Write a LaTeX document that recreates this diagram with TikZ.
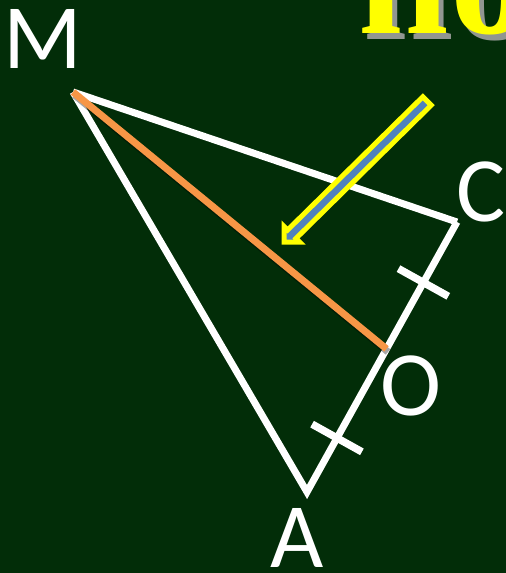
\documentclass[tikz,border=0pt]{standalone}
\usepackage{fontspec}
\setmainfont{Carlito}
\newfontfamily\titlefont{Liberation Serif}
\usetikzlibrary{calc}
\definecolor{bgreen}{RGB}{2,45,8}
\definecolor{orangeL}{RGB}{247,150,70}
\definecolor{arrowblue}{RGB}{79,129,189}
\definecolor{arrowyellow}{RGB}{255,255,0}
\definecolor{shadowgray}{RGB}{145,150,145}
\tikzset{
  side/.style={white,line width=7pt},
  tickmark/.style={white,line width=7.5pt},
  median/.style={orangeL,line width=7pt},
  vlabel/.style={white,inner sep=0pt,anchor=base,font=\fontsize{92}{92}\selectfont},
  titletext/.style={inner sep=0pt,anchor=base west,font=\titlefont\bfseries\fontsize{160}{160}\selectfont},
  pointer/.style={fill=arrowblue,draw=arrowyellow,line width=5pt,line join=miter}
}
\begin{document}
\begin{tikzpicture}[x=1pt,y=-1pt]
\fill[bgreen] (0,0) rectangle (506,573);
\useasboundingbox (0,0) rectangle (506,573);
\begin{scope}
\clip (0,0) rectangle (506,573);
\node[titletext,text=shadowgray] (titleshadow) at (363,39) {по};
\node[titletext,text=arrowyellow] (title) at (358,33) {по};
\end{scope}
% vertices
\coordinate (M) at (73,92);
\coordinate (C) at (457,222);
\coordinate (A) at (307,492);
\coordinate (O) at ($(C)!0.47!(A)$);
\coordinate (t1) at ($(C)!0.224!(A)$);
\coordinate (t2) at ($(C)!0.80!(A)$);
% triangle
\draw[side,line cap=butt] (M) -- (C);
\draw[side,line cap=butt,line join=miter] (C) -- (A) -- (M);
% ticks
\draw[tickmark] ($(t1)!28.5pt!90:(A)$) -- ($(t1)!28.5pt!-90:(A)$);
\draw[tickmark] ($(t2)!28.5pt!90:(A)$) -- ($(t2)!28.5pt!-90:(A)$);
% median with shadow
\draw[black,opacity=0.35,line width=7pt] ($(M)+(1.5,3)$) -- ($(O)+(1.5,3)$);
\draw[median] (M) -- (O);
% arrow
\filldraw[pointer] (422.8,96.8) -- (287.6,230.0) -- (284.0,226.4) -- (284,242)
  -- (299.6,242.0) -- (296.0,238.4) -- (431.2,105.2) -- cycle;
% labels
\node[vlabel] (lM) at (42.5,68) {M};
\node[vlabel] (lC) at (481.5,221) {C};
\node[vlabel] (lO) at (410.5,415) {O};
\node[vlabel] (lA) at (297.5,567) {A};
\end{tikzpicture}
\end{document}
